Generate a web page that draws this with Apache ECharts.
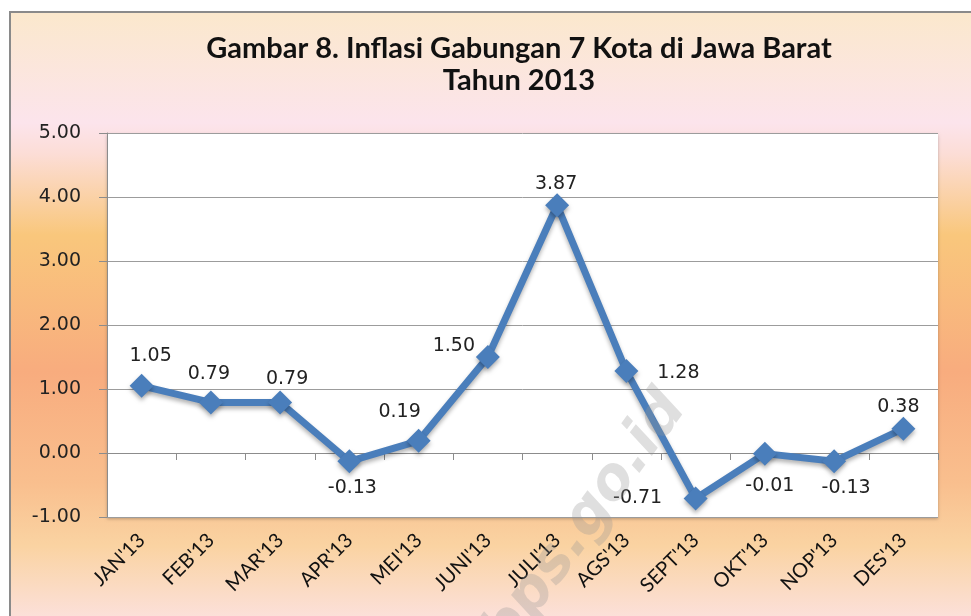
<!DOCTYPE html>
<html>
<head>
<meta charset="utf-8">
<script src="https://cdn.jsdelivr.net/npm/echarts@6/dist/echarts.min.js"></script>
<style>
  html, body { margin: 0; padding: 0; background: #fff; }
  #chart { width: 971px; height: 616px; }
</style>
</head>
<body>
<div id="chart"></div>
<script>
// data
const months = ["JAN'13", "FEB'13", "MAR'13", "APR'13", "MEI'13", "JUNI'13",
  "JULI'13", "AGS'13", "SEPT'13", "OKT'13", "NOP'13", "DES'13"];
const inflasi = [1.05, 0.79, 0.79, -0.13, 0.19, 1.50, 3.87, 1.28, -0.71, -0.01, -0.13, 0.38];
const yTicks = [-1, 0, 1, 2, 3, 4, 5];

// label offsets (px) from the marker centre, like the hand-placed excel labels
const labelOffsets = [
  [9, -30], [-2, -28], [7, -23], [3, 27], [-19, -29], [-34, -11],
  [-1, -21], [52, 2], [-58, 0], [5, 32], [12, 27], [-5, -22]
];

const chart = echarts.init(document.getElementById("chart"));

const option = {
  backgroundColor: "#fff",
  animation: false,
  title: {
    text: "Gambar 8. Inflasi Gabungan 7 Kota di Jawa Barat\nTahun 2013",
    left: 514,
    top: 28,
    textAlign: "center",
    textStyle: {
      fontFamily: "Lato",
      fontWeight: "bold",
      fontSize: 29,
      lineHeight: 32,
      color: "#111",
    },
  },
  graphic: [
    {
      // framed panel with the excel gradient fill
      type: "rect",
      z: -10,
      shape: { x: 10, y: 12, width: 975, height: 620 },
      style: {
        fill: new echarts.graphic.LinearGradient(0, 0, 0, 1, [
          { offset: 0, color: "#FBE8CC" },
          { offset: 0.18, color: "#FCE4EC" },
          { offset: 0.23, color: "#FCDDD6" },
          { offset: 0.36, color: "#F9C77C" },
          { offset: 0.58, color: "#F8AC7E" },
          { offset: 0.76, color: "#F9BF8E" },
          { offset: 0.86, color: "#FAD3A2" },
          { offset: 1, color: "#FCE3E6" },
        ]),
        stroke: "#8a8a8a",
        lineWidth: 2,
      },
    },
    {
      // watermark
      type: "text",
      z: 100,
      x: 585,
      y: 522,
      rotation: 0.94,
      style: {
        text: "bps.go.id",
        font: "italic bold 58px 'DejaVu Sans'",
        fill: "rgba(150,150,150,0.3)",
        align: "center",
        verticalAlign: "middle",
      },
    },
  ],
  grid: {
    left: 107,
    top: 133,
    right: 33,
    bottom: 99,
    show: true,
    backgroundColor: "#fff",
    borderWidth: 0,
    shadowColor: "rgba(0,0,0,0.25)",
    shadowBlur: 3,
    shadowOffsetY: 2,
  },
  xAxis: [
    {
      type: "category",
      data: months,
      position: "bottom",
      axisLine: { show: false, onZero: false },
      axisTick: { show: false },
      axisLabel: {
        rotate: 45,
        margin: 20,
        fontFamily: "Lato",
        fontSize: 20,
        color: "#111",
      },
    },
    {
      // category axis line crossing at 0, as in excel
      type: "category",
      data: months,
      position: "bottom",
      axisLine: { show: true, onZero: true, lineStyle: { color: "#8c8c8c", width: 1 } },
      axisTick: { show: true, length: 7, lineStyle: { color: "#8c8c8c" } },
      axisLabel: { show: false },
    },
  ],
  yAxis: {
    type: "value",
    min: yTicks[0],
    max: yTicks[yTicks.length - 1],
    interval: 1,
    axisLine: { show: true, lineStyle: { color: "#8c8c8c", width: 1 } },
    axisTick: { show: true, length: 8, lineStyle: { color: "#8c8c8c" } },
    splitLine: { lineStyle: { color: "#9c9c9c", width: 1 } },
    axisLabel: {
      margin: 26,
      fontFamily: "DejaVu Sans",
      fontSize: 19,
      color: "#222",
      formatter: (v) => v.toFixed(2),
    },
  },
  series: [
    {
      type: "line",
      xAxisIndex: 0,
      data: inflasi.map((v, i) => ({
        value: v,
        label: { offset: labelOffsets[i] },
      })),
      symbol: "diamond",
      symbolSize: 24,
      lineStyle: {
        width: 7,
        color: "#4A7EBB",
        shadowColor: "rgba(0,0,0,0.3)",
        shadowBlur: 4,
        shadowOffsetY: 3,
      },
      itemStyle: {
        color: "#4A7EBB",
        shadowColor: "rgba(0,0,0,0.3)",
        shadowBlur: 4,
        shadowOffsetY: 3,
      },
      label: {
        show: true,
        position: "inside",
        fontFamily: "DejaVu Sans",
        fontSize: 19,
        color: "#222",
        formatter: (p) => p.value.toFixed(2),
      },
      z: 5,
    },
  ],
};

chart.setOption(option);
</script>
</body>
</html>
